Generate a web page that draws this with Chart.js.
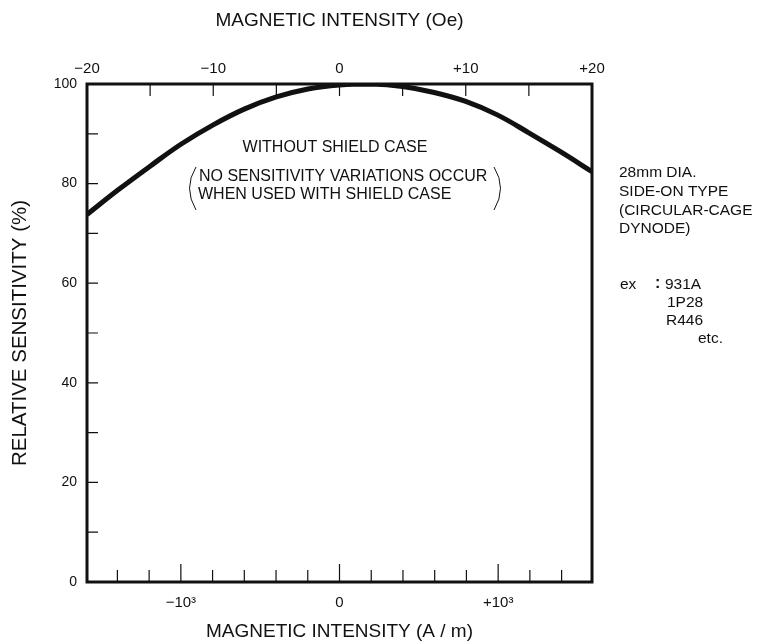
<!DOCTYPE html>
<html>
<head>
<meta charset="utf-8">
<title>Relative sensitivity vs magnetic intensity</title>
<script src="https://cdn.jsdelivr.net/npm/chart.js@4.4.1/dist/chart.umd.min.js"></script>
<style>
  html, body { margin: 0; padding: 0; background: #fff; }
  canvas { display: block; }
</style>
</head>
<body>
<canvas id="sensChart" width="766" height="644"></canvas>
<script>
// magnetic intensity (Oe, top scale) and relative sensitivity (%)
const fieldOe = [-20, -17.5, -15, -12.5, -10, -7.5, -5, -2.5, 0, 2.5, 5, 7.5, 10, 12.5, 15, 17.5, 20];
const sensitivity = [73.8, 78.8, 83.5, 88, 91.8, 95, 97.4, 99, 99.8, 100, 99.5, 98.3, 96.5, 93.8, 90.2, 86.4, 82.4];

// tick values and labels
const oeTicks = [-20, -10, 0, 10, 20];
const oeMarks = [-15, -10, -5, 0, 5, 10, 15];
const amTicks = [-1000, 0, 1000];
const amLabels = ["\u221210\u00b3", "0", "+10\u00b3"];
const amMarks = [-1400, -1200, -1000, -800, -600, -400, -200, 0, 200, 400, 600, 800, 1000, 1200, 1400];
const yMarks = [10, 20, 30, 40, 50, 60, 70, 80, 90];

const OE_TO_AM = 1000 / (4 * Math.PI); // 1 Oe = 79.58 A/m
const INK = "#111";
const FONT = "'Liberation Sans', Arial, sans-serif";

Chart.defaults.font.family = FONT;
Chart.defaults.color = INK;

// frame, inward tick marks and the notes written on the graph
const frameAndNotes = {
    id: "frameAndNotes",
    afterDatasetsDraw(chart) {
        const { ctx, chartArea: a, scales } = chart;
        ctx.save();
        ctx.strokeStyle = INK;
        ctx.lineWidth = 1.2;
        ctx.beginPath();
        oeMarks.forEach(v => {
            const x = scales.xTop.getPixelForValue(v);
            ctx.moveTo(x, a.top);
            ctx.lineTo(x, a.top + 12);
        });
        amMarks.forEach(v => {
            const x = scales.x.getPixelForValue(v);
            const len = amTicks.includes(v) ? 18 : 12;
            ctx.moveTo(x, a.bottom);
            ctx.lineTo(x, a.bottom - len);
        });
        yMarks.forEach(v => {
            const y = scales.y.getPixelForValue(v);
            ctx.moveTo(a.left, y);
            ctx.lineTo(a.left + 11, y);
        });
        ctx.stroke();

        ctx.lineWidth = 3;
        ctx.strokeRect(a.left, a.top, a.right - a.left, a.bottom - a.top);

        // text inside the plot
        ctx.fillStyle = INK;
        ctx.textBaseline = "middle";
        ctx.font = "16px " + FONT;
        ctx.textAlign = "center";
        ctx.fillText("WITHOUT SHIELD CASE", 335, 148);
        ctx.textAlign = "left";
        ctx.fillText("NO SENSITIVITY VARIATIONS OCCUR", 199, 177);
        ctx.fillText("WHEN USED WITH SHIELD CASE", 198, 195);

        // thin brackets round the note
        ctx.lineWidth = 1;
        ctx.beginPath();
        ctx.moveTo(196, 167);
        ctx.quadraticCurveTo(183, 188, 196, 210);
        ctx.moveTo(494, 167);
        ctx.quadraticCurveTo(507, 188, 494, 210);
        ctx.stroke();

        // notes on the right
        ctx.font = "15.5px " + FONT;
        ctx.fillText("28mm DIA.", 619, 173);
        ctx.fillText("SIDE-ON TYPE", 619, 192);
        ctx.fillText("(CIRCULAR-CAGE", 619, 211);
        ctx.fillText("DYNODE)", 619, 229);
        ctx.fillText("ex", 620, 285);
        ctx.font = "bold 16px " + FONT;
        ctx.fillText(":", 655, 284);
        ctx.font = "15.5px " + FONT;
        ctx.fillText("931A", 665, 285);
        ctx.fillText("1P28", 667, 303);
        ctx.fillText("R446", 666, 321);
        ctx.fillText("etc.", 698, 339);
        ctx.restore();
    }
};

const ctx = document.getElementById("sensChart").getContext("2d");
new Chart(ctx, {
    type: "line",
    data: {
        datasets: [{
            data: fieldOe.map((x, i) => ({ x: x, y: sensitivity[i] })),
            xAxisID: "xTop",
            yAxisID: "y",
            borderColor: INK,
            borderWidth: 5,
            pointRadius: 0,
            tension: 0.4,
            fill: false
        }]
    },
    options: {
        responsive: false,
        animation: false,
        layout: { padding: { left: 0, right: 174, top: 0, bottom: 0 } },
        plugins: {
            legend: { display: false },
            tooltip: { enabled: false }
        },
        scales: {
            xTop: {
                type: "linear",
                position: "top",
                min: -20,
                max: 20,
                grid: { display: false, drawTicks: false },
                border: { display: false },
                afterBuildTicks: s => { s.ticks = oeTicks.map(v => ({ value: v })); },
                afterFit: s => { s.height = 84; },
                ticks: {
                    autoSkip: false,
                    maxRotation: 0,
                    padding: 6,
                    font: { size: 15 },
                    callback: v => v > 0 ? "+" + v : v < 0 ? "\u2212" + Math.abs(v) : "0"
                },
                title: {
                    display: true,
                    text: "MAGNETIC INTENSITY (Oe)",
                    font: { size: 19 },
                    padding: { top: 9, bottom: 0 }
                }
            },
            x: {
                type: "linear",
                position: "bottom",
                min: -20 * OE_TO_AM,
                max: 20 * OE_TO_AM,
                grid: { display: false, drawTicks: false },
                border: { display: false },
                afterBuildTicks: s => { s.ticks = amTicks.map(v => ({ value: v })); },
                afterFit: s => { s.height = 62; },
                ticks: {
                    autoSkip: false,
                    maxRotation: 0,
                    padding: 12,
                    font: { size: 15 },
                    callback: v => amLabels[amTicks.indexOf(v)]
                },
                title: {
                    display: true,
                    text: "MAGNETIC INTENSITY (A / m)",
                    font: { size: 19 },
                    padding: { top: 0, bottom: 1 }
                }
            },
            y: {
                type: "linear",
                position: "left",
                min: 0,
                max: 100,
                grid: { display: false, drawTicks: false },
                border: { display: false },
                afterFit: s => { s.width = 87; },
                ticks: {
                    stepSize: 20,
                    padding: 10,
                    font: { size: 14 }
                },
                title: {
                    display: true,
                    text: "RELATIVE SENSITIVITY (%)",
                    font: { size: 20.5 },
                    padding: { top: 8, bottom: 0 }
                }
            }
        }
    },
    plugins: [frameAndNotes]
});
</script>
</body>
</html>
